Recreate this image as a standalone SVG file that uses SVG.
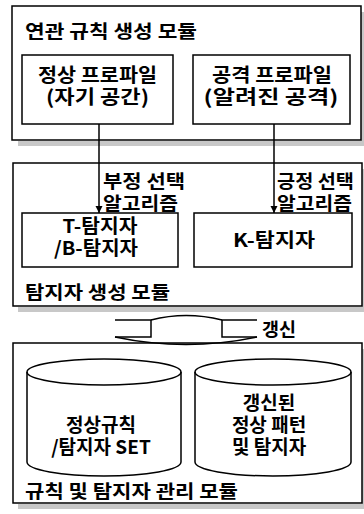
<svg xmlns="http://www.w3.org/2000/svg" width="364" height="514" viewBox="0 0 364 514">
<style>
.box{fill:#fff;stroke:#000;stroke-width:1.5}
.shadow{fill:#c8c8c8}
.t{font-family:"Noto Sans CJK KR","Noto Sans",sans-serif;fill:#000;font-weight:700}
.title{font-size:18.5px}
.lbl{font-size:19px}
.conn{stroke:#000;stroke-width:1.5;fill:none}
</style>
<defs>
<marker id="ah" viewBox="0 0 10 10" refX="10" refY="5" markerWidth="7" markerHeight="8" markerUnits="userSpaceOnUse" orient="auto">
<path d="M0,0 L10,5 L0,10 z" fill="#000"/>
</marker>
</defs>
<rect width="364" height="514" fill="#fff"/>

<g id="module-rule-gen">
<rect class="shadow" x="18" y="141" width="346" height="5"/>
<rect class="shadow" x="361" y="12" width="3" height="134"/>
<rect class="box" x="12" y="6" width="349" height="134"/>
<text class="t title" x="25" y="38" textLength="172" lengthAdjust="spacingAndGlyphs">연관 규칙 생성 모듈</text>
</g>
<g id="node-normal-profile">
<rect class="box" x="22" y="55" width="151" height="69"/>
<text class="t lbl" x="97.5" y="82" text-anchor="middle" textLength="119" lengthAdjust="spacingAndGlyphs">정상 프로파일</text>
<text class="t lbl" x="97.5" y="104" text-anchor="middle" textLength="103" lengthAdjust="spacingAndGlyphs">(자기 공간)</text>
</g>
<g id="node-attack-profile">
<rect class="box" x="193" y="55" width="157" height="69"/>
<text class="t lbl" x="272" y="82" text-anchor="middle" textLength="120" lengthAdjust="spacingAndGlyphs">공격 프로파일</text>
<text class="t lbl" x="271" y="104" text-anchor="middle" textLength="135" lengthAdjust="spacingAndGlyphs">(알려진 공격)</text>
</g>

<g id="module-detector-gen">
<rect class="shadow" x="18" y="307" width="346" height="5"/>
<rect class="shadow" x="362" y="169" width="2" height="143"/>
<rect class="box" x="13" y="163" width="349" height="143"/>
<text class="t title" x="25" y="299" textLength="145" lengthAdjust="spacingAndGlyphs">탐지자 생성 모듈</text>
</g>
<g id="node-tb-detector">
<rect class="box" x="22" y="213" width="156" height="54"/>
<text class="t lbl" x="100" y="233" text-anchor="middle" textLength="75" lengthAdjust="spacingAndGlyphs">T-탐지자</text>
<text class="t lbl" x="96" y="255" text-anchor="middle" textLength="84" lengthAdjust="spacingAndGlyphs">/B-탐지자</text>
</g>
<g id="node-k-detector">
<rect class="box" x="194" y="213" width="158" height="54"/>
<text class="t lbl" x="274" y="247" text-anchor="middle" textLength="82" lengthAdjust="spacingAndGlyphs">K-탐지자</text>
</g>

<g id="module-manage">
<rect class="shadow" x="18" y="504" width="346" height="5"/>
<rect class="shadow" x="362" y="349" width="2" height="160"/>
<rect class="box" x="13" y="343" width="349" height="160"/>
<text class="t title" x="25" y="498" textLength="213" lengthAdjust="spacingAndGlyphs">규칙 및 탐지자 관리 모듈</text>
</g>
<g id="node-rule-set">
<path class="box" d="M27,372 A77,13 0 0 1 181,372 V462 A77,14 0 0 1 27,462 Z"/>
<path class="conn" d="M27,372 A77,13 0 0 0 181,372"/>
<text class="t lbl" x="101" y="432" text-anchor="middle">정상규칙</text>
<text class="t lbl" x="101" y="454" text-anchor="middle">/탐지자 SET</text>
</g>
<g id="node-updated">
<path class="box" d="M195,372 A78,13 0 0 1 351,372 V462 A78,14 0 0 1 195,462 Z"/>
<path class="conn" d="M195,372 A78,13 0 0 0 351,372"/>
<text class="t lbl" x="269" y="410" text-anchor="middle">갱신된</text>
<text class="t lbl" x="269" y="432" text-anchor="middle">정상 패턴</text>
<text class="t lbl" x="269" y="454" text-anchor="middle">및 탐지자</text>
</g>

<g id="connectors">
<line class="conn" x1="99" y1="124" x2="99" y2="213" marker-end="url(#ah)"/>
<line class="conn" x1="274" y1="124" x2="274" y2="213" marker-end="url(#ah)"/>
<text class="t title" x="103" y="188" textLength="82" lengthAdjust="spacingAndGlyphs">부정 선택</text>
<text class="t title" x="103" y="210" textLength="75" lengthAdjust="spacingAndGlyphs">알고리즘</text>
<text class="t title" x="277" y="188" textLength="77" lengthAdjust="spacingAndGlyphs">긍정 선택</text>
<text class="t title" x="277" y="210" textLength="75" lengthAdjust="spacingAndGlyphs">알고리즘</text>
<g id="update-arrow">
<path class="conn" d="M115,320 H151 V337 H115"/>
<path class="conn" d="M257,320 H222 V337 H257"/>
<path class="conn" d="M151,320 Q186,311 222,320"/>
<path class="conn" stroke-width="2" d="M115,337 Q186,352 257,337"/>
<text class="t title" x="262" y="336" textLength="34" lengthAdjust="spacingAndGlyphs">갱신</text>
</g>
</g>
</svg>
